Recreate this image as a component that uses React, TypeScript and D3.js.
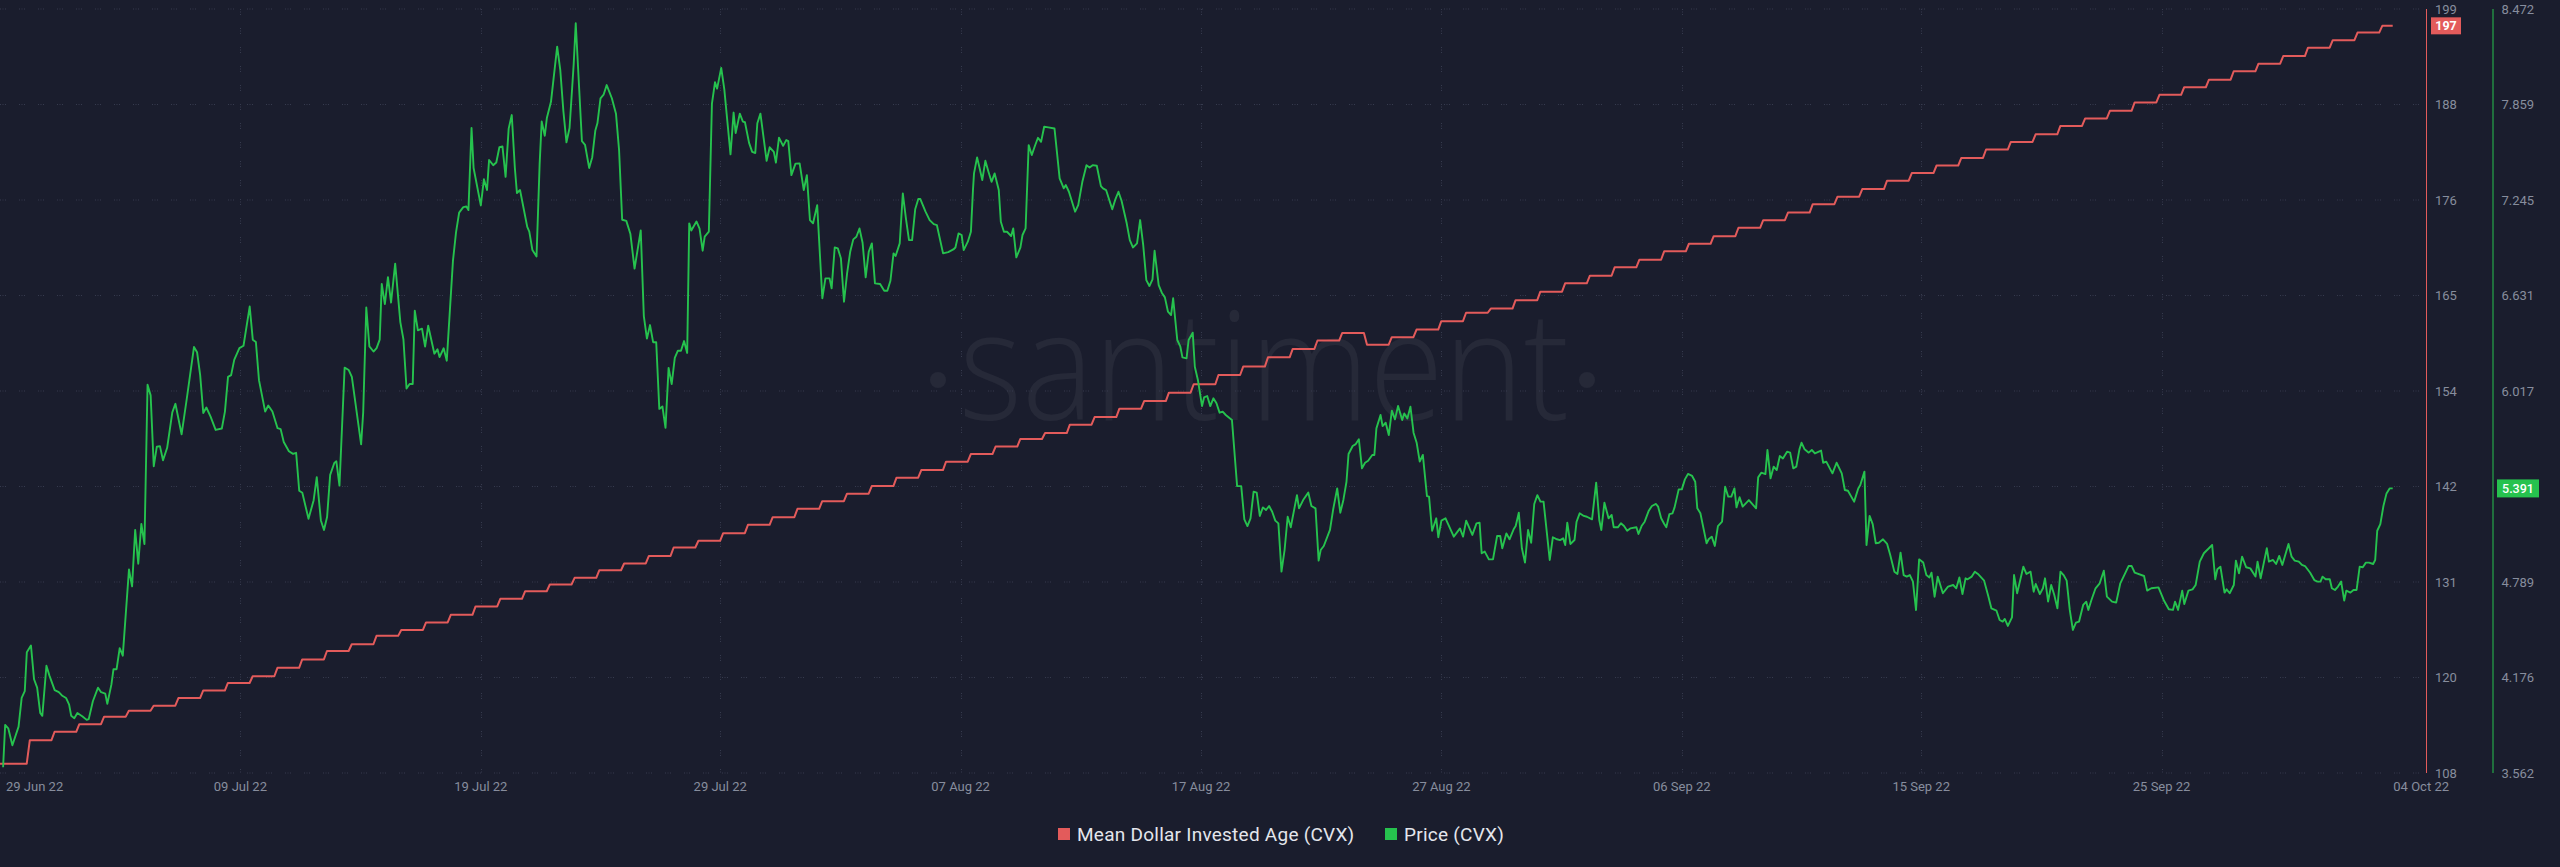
import React from "react";
import * as d3 from "d3";

// ---------- DATA ----------
// Mean Dollar Invested Age (CVX), daily values
const mdiaValues: number[] = [
  109.3, 112.1, 113.1, 114.0, 114.9, 115.6, 116.2, 117.1, 118.0, 118.9,
  119.7, 120.7, 121.7, 122.7, 123.5, 124.5, 125.2, 126.1, 127.0, 128.0,
  128.9, 129.8, 130.6, 131.4, 132.3, 133.1, 134.0, 135.0, 135.8, 136.7,
  137.7, 138.6, 139.6, 140.5, 141.4, 142.3, 143.3, 144.2, 145.2, 146.1,
  147.0, 147.9, 148.6, 149.6, 150.5, 151.5, 152.4, 153.4, 154.4, 155.5,
  156.5, 157.6, 158.6, 159.6, 160.5, 159.1, 160.0, 160.9, 161.9, 162.9,
  163.4, 164.4, 165.4, 166.4, 167.3, 168.3, 169.2, 170.2, 171.1, 172.0,
  173.0, 173.9, 174.8, 175.8, 176.7, 177.6, 178.6, 179.5, 180.4, 181.3,
  182.3, 183.2, 184.1, 185.1, 186.0, 186.9, 187.9, 188.8, 189.7, 190.6,
  191.6, 192.5, 193.4, 194.4, 195.3, 196.2, 197.0,
];
const mdiaFirstStepHour = 27.4; // hour (from chart start) of first daily change
const seriesEndHour = 2319;

// Price (CVX): [hours since chart start, price USD]
const priceSeries: [number, number][] = [
  [3,3.599],[5,3.870],[8,3.849],[12,3.740],[18,3.860],[21,4.044],[24,4.088],[26,4.338],[30,4.381],[33,4.164],
  [36,4.110],[39,3.947],[41,3.929],[45,4.251],[48,4.186],[53,4.094],[57,4.081],[60,4.060],[64,4.044],[67,4.001],
  [69,3.929],[72,3.914],[75,3.947],[80,3.925],[84,3.903],[86,3.908],[90,4.023],[95,4.110],[98,4.081],[102,4.072],
  [104,4.007],[108,4.131],[110,4.229],[113,4.229],[116,4.364],[119,4.316],[125,4.870],[128,4.761],[131,5.124],[134,4.907],
  [137,5.163],[140,5.033],[143,6.058],[146,5.989],[149,5.533],[152,5.659],[155,5.663],[158,5.572],[162,5.652],[167,5.880],
  [170,5.935],[176,5.739],[181,5.967],[188,6.300],[191,6.267],[194,6.119],[197,5.876],[200,5.911],[204,5.854],[209,5.767],
  [215,5.776],[218,5.885],[221,6.108],[224,6.119],[227,6.217],[232,6.293],[236,6.308],[242,6.560],[245,6.347],[248,6.332],
  [251,6.087],[257,5.885],[260,5.924],[264,5.885],[269,5.778],[272,5.772],[275,5.689],[280,5.630],[284,5.613],[287,5.620],
  [290,5.376],[293,5.363],[299,5.196],[304,5.315],[307,5.463],[311,5.185],[314,5.124],[317,5.207],[320,5.478],[324,5.554],
  [326,5.565],[329,5.409],[334,6.167],[338,6.152],[341,6.108],[350,5.674],[352,5.880],[355,6.554],[358,6.304],[362,6.271],
  [365,6.293],[368,6.347],[370,6.706],[373,6.576],[376,6.749],[379,6.586],[383,6.836],[388,6.460],[391,6.349],[394,6.033],
  [397,6.062],[400,6.062],[402,6.533],[405,6.407],[409,6.418],[412,6.303],[415,6.437],[421,6.257],[424,6.285],[426,6.235],
  [430,6.292],[433,6.212],[439,6.854],[442,7.038],[445,7.164],[449,7.199],[452,7.203],[454,7.180],[457,7.708],[459,7.451],
  [466,7.210],[469,7.378],[472,7.309],[474,7.502],[478,7.469],[481,7.486],[484,7.584],[487,7.589],[490,7.394],[493,7.704],
  [496,7.791],[499,7.451],[501,7.290],[504,7.309],[511,7.072],[513,7.042],[516,6.923],[520,6.882],[523,7.474],[525,7.750],
  [528,7.658],[530,7.772],[534,7.876],[540,8.231],[543,8.082],[546,7.818],[549,7.616],[552,7.708],[556,8.117],[558,8.381],
  [564,7.623],[567,7.600],[571,7.451],[574,7.520],[577,7.692],[579,7.738],[582,7.899],[585,7.922],[588,7.984],[593,7.899],
  [597,7.800],[600,7.566],[603,7.118],[607,7.111],[611,7.026],[615,6.804],[621,7.049],[624,6.499],[627,6.354],[630,6.441],
  [633,6.331],[636,6.331],[639,5.902],[642,5.918],[645,5.780],[648,6.166],[651,6.062],[654,6.230],[657,6.276],[660,6.276],
  [663,6.338],[666,6.262],[668,7.095],[670,7.049],[675,7.107],[678,7.061],[681,6.919],[683,7.010],[687,7.042],[690,7.864],
  [693,8.002],[695,7.961],[699,8.094],[702,7.956],[708,7.538],[711,7.807],[713,7.676],[717,7.800],[720,7.749],[722,7.745],
  [726,7.612],[729,7.554],[732,7.547],[734,7.738],[737,7.800],[743,7.497],[746,7.584],[750,7.554],[752,7.485],[755,7.646],
  [759,7.593],[762,7.630],[764,7.623],[767,7.405],[771,7.479],[775,7.480],[779,7.309],[782,7.405],[785,7.116],[788,7.095],
  [792,7.212],[797,6.613],[800,6.741],[804,6.741],[806,6.677],[809,6.940],[812,6.934],[815,6.870],[818,6.591],[821,6.773],
  [824,6.912],[827,6.992],[830,7.009],[833,7.062],[836,6.970],[839,6.748],[842,6.913],[845,6.966],[848,6.709],[853,6.705],
  [857,6.662],[860,6.662],[863,6.726],[866,6.902],[868,6.885],[872,6.966],[875,7.287],[878,7.127],[881,6.987],[884,6.987],
  [887,7.185],[890,7.251],[892,7.251],[897,7.170],[901,7.116],[905,7.090],[908,7.084],[914,6.902],[919,6.910],[924,6.927],
  [926,6.940],[929,7.030],[932,7.020],[934,6.923],[938,6.977],[941,7.041],[943,7.309],[944,7.416],[947,7.519],[950,7.433],
  [952,7.373],[955,7.497],[958,7.427],[961,7.362],[964,7.416],[968,7.309],[970,7.105],[973,7.041],[976,7.041],[980,7.013],
  [982,7.062],[985,6.876],[989,6.940],[991,7.020],[994,7.062],[997,7.598],[1000,7.534],[1003,7.592],[1006,7.645],[1009,7.619],
  [1012,7.716],[1016,7.712],[1022,7.705],[1024,7.577],[1027,7.384],[1031,7.320],[1033,7.341],[1036,7.298],[1042,7.170],[1045,7.212],
  [1049,7.362],[1053,7.469],[1056,7.454],[1059,7.469],[1063,7.465],[1067,7.334],[1069,7.320],[1072,7.309],[1078,7.185],[1081,7.249],
  [1084,7.298],[1087,7.240],[1092,7.095],[1095,6.987],[1098,6.940],[1102,6.966],[1105,7.116],[1108,6.955],[1111,6.730],[1114,6.692],
  [1117,6.735],[1119,6.919],[1123,6.698],[1126,6.649],[1129,6.619],[1132,6.527],[1135,6.505],[1137,6.613],[1141,6.345],[1144,6.302],
  [1146,6.233],[1150,6.227],[1152,6.345],[1156,6.392],[1158,6.173],[1161,6.088],[1165,5.920],[1167,5.976],[1170,5.985],[1173,5.920],
  [1176,5.970],[1179,5.938],[1182,5.878],[1185,5.884],[1188,5.863],[1194,5.831],[1199,5.406],[1203,5.406],[1206,5.192],[1209,5.149],
  [1212,5.199],[1215,5.370],[1218,5.364],[1221,5.214],[1224,5.269],[1227,5.252],[1230,5.278],[1233,5.241],[1236,5.184],[1239,5.166],
  [1242,4.856],[1245,4.995],[1248,5.209],[1251,5.141],[1257,5.348],[1259,5.263],[1263,5.316],[1268,5.364],[1271,5.278],[1275,5.263],
  [1278,4.927],[1280,4.995],[1283,5.021],[1289,5.124],[1292,5.252],[1296,5.391],[1299,5.235],[1302,5.317],[1305,5.434],[1307,5.612],
  [1311,5.664],[1314,5.676],[1317,5.707],[1320,5.520],[1323,5.556],[1326,5.569],[1330,5.606],[1332,5.606],[1334,5.777],[1338,5.863],
  [1340,5.792],[1343,5.813],[1346,5.734],[1349,5.891],[1352,5.835],[1355,5.921],[1359,5.831],[1361,5.873],[1364,5.841],[1367,5.916],
  [1370,5.749],[1373,5.685],[1376,5.563],[1379,5.606],[1383,5.342],[1385,5.338],[1388,5.119],[1392,5.199],[1394,5.077],[1397,5.184],
  [1401,5.199],[1409,5.081],[1415,5.134],[1418,5.081],[1421,5.184],[1427,5.092],[1431,5.166],[1434,5.171],[1436,4.974],[1439,4.985],
  [1443,4.935],[1447,4.935],[1451,5.085],[1454,5.085],[1456,5.006],[1460,5.102],[1463,5.064],[1467,5.128],[1469,5.149],[1472,5.235],
  [1475,5.006],[1478,4.914],[1481,5.124],[1484,5.042],[1487,5.291],[1490,5.348],[1493,5.306],[1496,5.306],[1502,4.931],[1505,5.077],
  [1509,5.064],[1512,5.059],[1515,5.070],[1517,5.027],[1519,5.171],[1522,5.034],[1526,5.059],[1528,5.177],[1531,5.231],[1535,5.214],
  [1538,5.209],[1543,5.192],[1547,5.428],[1550,5.188],[1552,5.124],[1555,5.299],[1559,5.199],[1562,5.220],[1564,5.141],[1568,5.141],
  [1571,5.167],[1574,5.149],[1577,5.119],[1580,5.134],[1586,5.141],[1588,5.098],[1591,5.149],[1594,5.177],[1598,5.248],[1601,5.278],
  [1605,5.291],[1607,5.274],[1610,5.199],[1613,5.162],[1615,5.141],[1618,5.226],[1621,5.231],[1623,5.269],[1627,5.385],[1630,5.385],
  [1633,5.449],[1636,5.484],[1640,5.471],[1643,5.434],[1645,5.263],[1648,5.231],[1654,5.038],[1656,5.064],[1659,5.081],[1662,5.021],
  [1665,5.149],[1669,5.177],[1672,5.402],[1675,5.338],[1678,5.338],[1681,5.391],[1683,5.269],[1686,5.334],[1689,5.274],[1695,5.316],
  [1702,5.263],[1704,5.462],[1707,5.492],[1711,5.483],[1713,5.638],[1716,5.456],[1719,5.531],[1722,5.509],[1725,5.599],[1728,5.584],
  [1732,5.627],[1735,5.621],[1738,5.520],[1741,5.531],[1744,5.642],[1746,5.685],[1749,5.642],[1753,5.621],[1756,5.638],[1759,5.616],
  [1765,5.634],[1767,5.556],[1770,5.563],[1776,5.488],[1780,5.556],[1785,5.488],[1788,5.381],[1791,5.376],[1797,5.306],[1801,5.391],
  [1803,5.413],[1807,5.499],[1809,5.027],[1812,5.214],[1815,5.162],[1818,5.038],[1821,5.042],[1825,5.064],[1829,5.034],[1832,4.963],
  [1836,4.856],[1839,4.841],[1842,4.978],[1845,4.834],[1848,4.824],[1851,4.834],[1854,4.792],[1857,4.609],[1860,4.935],[1864,4.914],
  [1867,4.834],[1870,4.819],[1872,4.849],[1875,4.695],[1878,4.824],[1883,4.717],[1888,4.760],[1893,4.770],[1896,4.749],[1899,4.819],
  [1902,4.712],[1905,4.813],[1907,4.807],[1911,4.824],[1914,4.856],[1917,4.841],[1923,4.798],[1927,4.700],[1930,4.620],[1935,4.605],
  [1938,4.545],[1941,4.535],[1943,4.552],[1946,4.507],[1950,4.562],[1952,4.834],[1955,4.717],[1961,4.888],[1964,4.841],[1968,4.856],
  [1971,4.727],[1973,4.777],[1977,4.712],[1980,4.749],[1982,4.813],[1985,4.663],[1988,4.770],[1991,4.706],[1994,4.620],[1997,4.856],
  [2000,4.834],[2003,4.798],[2006,4.610],[2009,4.481],[2012,4.528],[2015,4.535],[2019,4.642],[2022,4.663],[2024,4.610],[2027,4.674],
  [2031,4.749],[2035,4.781],[2039,4.862],[2042,4.695],[2047,4.663],[2051,4.657],[2055,4.781],[2063,4.892],[2066,4.892],[2069,4.849],
  [2078,4.828],[2081,4.734],[2085,4.749],[2092,4.755],[2097,4.674],[2102,4.614],[2106,4.610],[2108,4.663],[2111,4.610],[2115,4.734],
  [2117,4.648],[2121,4.734],[2125,4.742],[2128,4.770],[2132,4.920],[2136,4.974],[2144,5.027],[2147,4.807],[2149,4.871],[2152,4.888],
  [2156,4.721],[2158,4.742],[2161,4.717],[2165,4.770],[2167,4.927],[2170,4.845],[2173,4.952],[2177,4.884],[2181,4.877],[2186,4.824],
  [2188,4.920],[2191,4.813],[2197,5.006],[2199,4.920],[2203,4.931],[2206,4.905],[2209,4.957],[2212,4.899],[2218,5.034],[2221,4.952],
  [2224,4.927],[2228,4.920],[2231,4.899],[2234,4.892],[2239,4.849],[2243,4.802],[2246,4.792],[2249,4.792],[2251,4.824],[2254,4.807],
  [2258,4.807],[2260,4.749],[2263,4.738],[2266,4.760],[2269,4.792],[2272,4.670],[2274,4.734],[2278,4.721],[2281,4.738],[2284,4.738],
  [2287,4.888],[2290,4.884],[2293,4.914],[2296,4.914],[2300,4.905],[2302,4.931],[2304,5.119],[2307,5.162],[2310,5.278],[2313,5.359],
  [2316,5.391],[2319,5.391],
];

const xTickHours: number[] = [0, 233, 466, 698, 931, 1164, 1397, 1630, 1862, 2095, 2328];
const xTickLabels: string[] = [
  "29 Jun 22", "09 Jul 22", "19 Jul 22", "29 Jul 22", "07 Aug 22", "17 Aug 22",
  "27 Aug 22", "06 Sep 22", "15 Sep 22", "25 Sep 22", "04 Oct 22",
];
const mdiaDomain: [number, number] = [108.2, 199.0];
const priceDomain: [number, number] = [3.5616, 8.4728];
const mdiaTickLabels: string[] = ["108", "120", "131", "142", "154", "165", "176", "188", "199"];
const priceTickLabels: string[] = ["3.562", "4.176", "4.789", "5.403", "6.017", "6.631", "7.245", "7.859", "8.472"];
const legendItems: string[] = ["Mean Dollar Invested Age (CVX)", "Price (CVX)"];

// ---------- STYLE / LAYOUT ----------
const W = 2560;
const H = 867;
const BG = "#1a1d2d";
const RED = "#e35b5b";
const GREEN = "#26c24e";
const GRID = "#363b4e";
const TICK = "#878d9d";
const FONT = "Roboto, 'Open Sans', sans-serif";
const TOP = 9;
const BOTTOM = 773;
const RED_AXIS_X = 2426.5;
const GREEN_AXIS_X = 2493;
const GRID_DASH = "1 1.5 1 1.5 1 13";

export default function App() {
  const x = d3.scaleLinear().domain([0, 2328]).range([0, 2402]);
  const yM = d3.scaleLinear().domain(mdiaDomain).range([BOTTOM, TOP]);
  const yP = d3.scaleLinear().domain(priceDomain).range([BOTTOM, TOP]);

  // MDIA step points (daily values, short ramp at each daily change)
  const mdiaPts: [number, number][] = [[0, mdiaValues[0]]];
  for (let k = 1; k < mdiaValues.length; k++) {
    const b = mdiaFirstStepHour + 24 * (k - 1);
    mdiaPts.push([b - 1.5, mdiaValues[k - 1]]);
    mdiaPts.push([b + 1.5, mdiaValues[k]]);
  }
  mdiaPts.push([seriesEndHour, mdiaValues[mdiaValues.length - 1]]);

  const mdiaLine = d3
    .line<[number, number]>()
    .x((d) => x(d[0]))
    .y((d) => yM(d[1]))(mdiaPts) as string;
  const priceLine = d3
    .line<[number, number]>()
    .x((d) => x(d[0]))
    .y((d) => yP(d[1]))(priceSeries) as string;

  const nT = mdiaTickLabels.length - 1;
  const mdiaTicks = mdiaTickLabels.map((l, i) => ({
    label: l,
    y: yM(mdiaDomain[0] + (i * (mdiaDomain[1] - mdiaDomain[0])) / nT),
  }));
  const priceTicks = priceTickLabels.map((l, i) => ({
    label: l,
    y: yP(priceDomain[0] + (i * (priceDomain[1] - priceDomain[0])) / nT),
  }));

  const lastM = mdiaValues[mdiaValues.length - 1];
  const lastP = priceSeries[priceSeries.length - 1][1];
  const lastMY = yM(lastM);
  const lastPY = yP(lastP);

  return (
    <svg
      width={W}
      height={H}
      style={{ position: "absolute", left: 0, top: 0, display: "block" }}
      fontFamily={FONT}
    >
      <rect x={0} y={0} width={W} height={H} fill={BG} />

      {/* watermark */}
      <g fill="#ffffff" fillOpacity={0.055}>
        <text
          x={1264}
          y={420}
          fontSize={152}
          fontWeight={300}
          fontFamily="'Open Sans', sans-serif"
          textAnchor="middle"
          textLength={610}
          lengthAdjust="spacingAndGlyphs"
        >
          santiment
        </text>
        <circle cx={938} cy={380} r={8} />
        <circle cx={1587} cy={380} r={8} />
      </g>

      {/* horizontal grid */}
      {mdiaTicks.map((t, i) => (
        <line
          key={"hg" + i}
          x1={0}
          x2={RED_AXIS_X}
          y1={t.y}
          y2={t.y}
          stroke={GRID}
          strokeWidth={1}
          strokeDasharray={GRID_DASH}
        />
      ))}
      {/* vertical grid */}
      {xTickHours.slice(1, -1).map((h, i) => (
        <line
          key={"vg" + i}
          x1={Math.round(x(h)) + 0.5}
          x2={Math.round(x(h)) + 0.5}
          y1={TOP}
          y2={BOTTOM}
          stroke={GRID}
          strokeWidth={1}
          strokeDasharray={GRID_DASH}
        />
      ))}

      {/* series */}
      <path d={mdiaLine} fill="none" stroke={RED} strokeWidth={2} strokeLinejoin="round" />
      <path d={priceLine} fill="none" stroke={GREEN} strokeWidth={1.9} strokeLinejoin="round" />

      {/* axes */}
      <line x1={RED_AXIS_X} x2={RED_AXIS_X} y1={TOP} y2={BOTTOM} stroke={RED} strokeWidth={1} />
      <line x1={GREEN_AXIS_X} x2={GREEN_AXIS_X} y1={TOP} y2={BOTTOM} stroke={GREEN} strokeWidth={1} />

      {mdiaTicks.map((t, i) => (
        <text
          key={"mt" + i}
          x={RED_AXIS_X + 8.5}
          y={t.y}
          dy="0.35em"
          fontSize={13}
          fill={TICK}
        >
          {t.label}
        </text>
      ))}
      {priceTicks.map((t, i) => (
        <text
          key={"pt" + i}
          x={GREEN_AXIS_X + 8.5}
          y={t.y}
          dy="0.35em"
          fontSize={13}
          fill={TICK}
        >
          {t.label}
        </text>
      ))}

      {xTickHours.map((h, i) => {
        const last = i === xTickHours.length - 1;
        const first = i === 0;
        return (
          <text
            key={"xt" + i}
            x={first ? 6 : last ? 2449 : x(h)}
            y={786}
            dy="0.35em"
            fontSize={13}
            fill={TICK}
            textAnchor={first ? "start" : last ? "end" : "middle"}
          >
            {xTickLabels[i]}
          </text>
        );
      })}

      {/* last value badges */}
      <rect x={2431} y={lastMY - 8.5} width={30} height={17} fill={RED} />
      <text
        x={2446}
        y={lastMY}
        dy="0.36em"
        fontSize={12.5}
        fontWeight={700}
        fill="#ffffff"
        textAnchor="middle"
      >
        {Math.round(lastM)}
      </text>
      <rect x={2497} y={lastPY - 9} width={42} height={18} fill={GREEN} />
      <text
        x={2518}
        y={lastPY}
        dy="0.36em"
        fontSize={12.5}
        fontWeight={500}
        fill="#ffffff"
        textAnchor="middle"
      >
        {lastP.toFixed(3)}
      </text>

      {/* legend */}
      <g fontSize={19} fill="#e4e6ec" letterSpacing={0.25}>
        <rect x={1058} y={828} width={12} height={12} fill={RED} />
        <text x={1077} y={834} dy="0.35em">
          {legendItems[0]}
        </text>
        <rect x={1385} y={828} width={12} height={12} fill={GREEN} />
        <text x={1404} y={834} dy="0.35em">
          {legendItems[1]}
        </text>
      </g>
    </svg>
  );
}
